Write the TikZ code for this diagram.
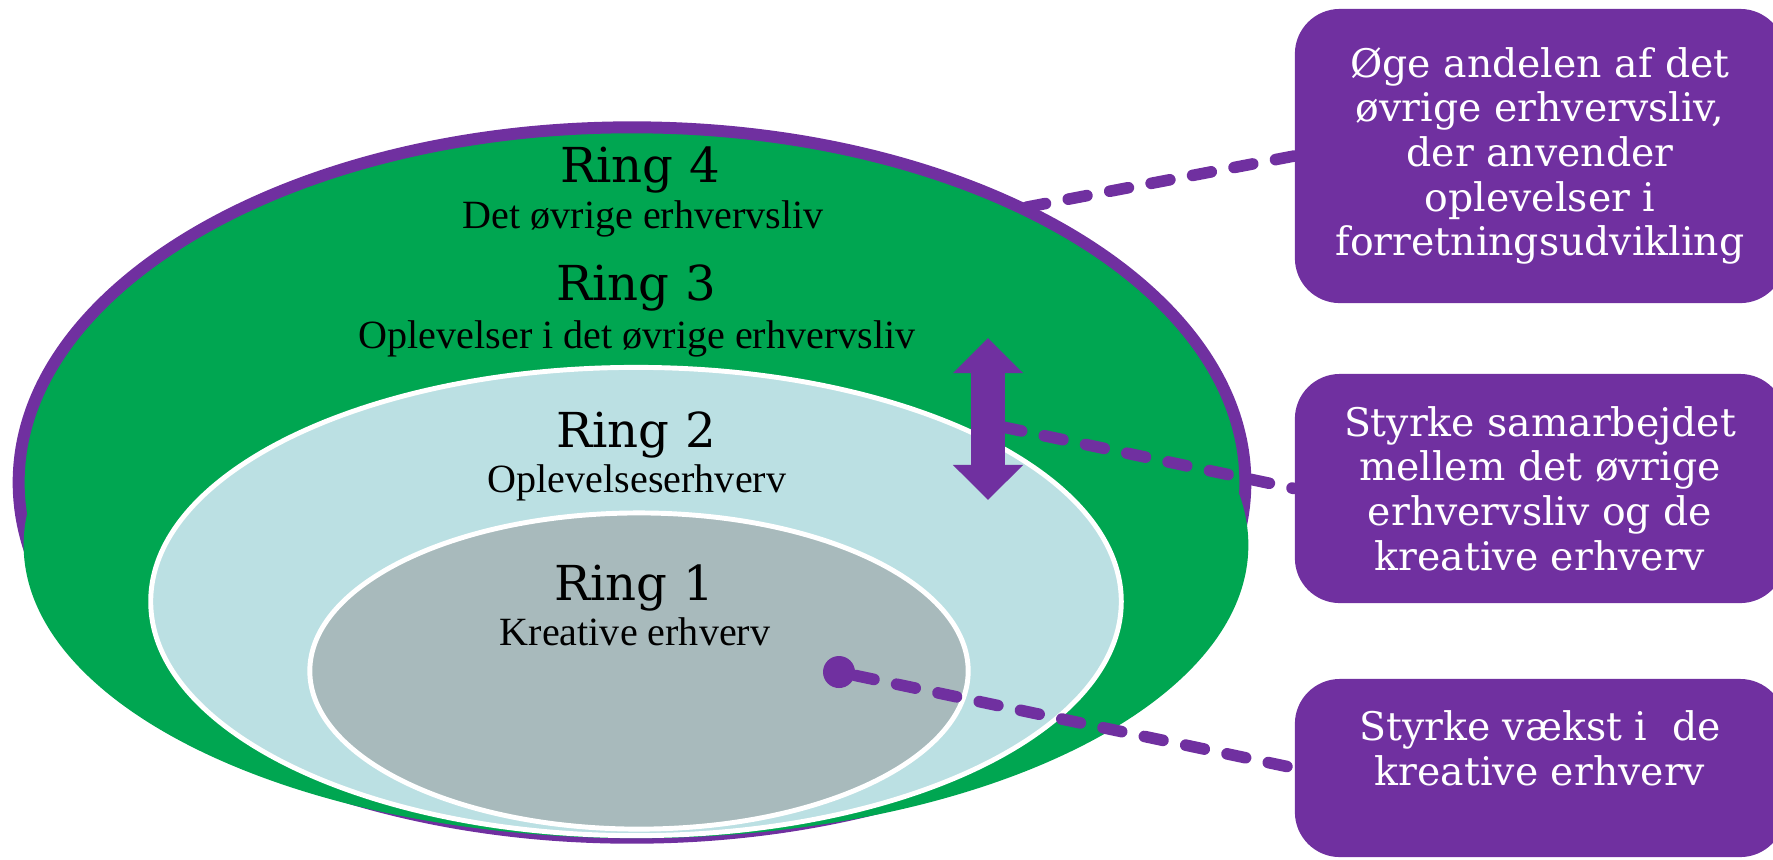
\documentclass[tikz,border=0pt]{standalone}
\usepackage{fontspec}
\setmainfont{Liberation Serif}
\newfontfamily\ringfont{DejaVu Serif}
\usetikzlibrary{arrows.meta}
\definecolor{ringpurple}{RGB}{112,48,160}
\definecolor{ringgreen}{RGB}{0,166,81}
\definecolor{ringblue}{RGB}{187,224,227}
\definecolor{ringgrey}{RGB}{168,186,188}

\begin{document}
\begin{tikzpicture}[x=0.01cm,y=-0.01cm,
    ringtitle/.style={anchor=base,font=\ringfont\fontsize{13.7}{16}\selectfont},
    ringsub/.style={anchor=base,font=\fontsize{11.4}{13}\selectfont},
    goalbox/.style={fill=ringpurple,rounded corners=12.8pt,minimum width=4.9cm,text=white,align=center,font=\ringfont\fontsize{11.2}{12.7}\selectfont},
    link/.style={draw=ringpurple,line width=3.3pt,line cap=round,dash pattern=on 5.4pt off 6.6pt}]
  \useasboundingbox (0,0) rectangle (1773,859);
  % the four rings
  \draw[ringpurple,line width=3.4pt,fill=ringgreen] (632,482.5) ellipse [x radius=6.13cm,y radius=3.55cm];
  \fill[ringgreen] (636,545) ellipse [x radius=6.12cm,y radius=2.93cm];
  \draw[white,line width=1.4pt,fill=ringblue] (636,601.5) ellipse [x radius=4.85cm,y radius=2.34cm];
  \draw[white,line width=1.4pt,fill=ringgrey] (639,671) ellipse [x radius=3.29cm,y radius=1.58cm];
  \node[ringtitle] (r4) at (640,182) {Ring 4};
  \node[ringsub] (r4sub) at (643,228) {Det øvrige erhvervsliv};
  \node[ringtitle] (r3) at (636,300) {Ring 3};
  \node[ringsub] (r3sub) at (637,348) {Oplevelser i det øvrige erhvervsliv};
  \node[ringtitle] (r2) at (636,447) {Ring 2};
  \node[ringsub] (r2sub) at (637,492) {Oplevelseserhverv};
  \node[ringtitle] (r1) at (634,600) {Ring 1};
  \node[ringsub] (r1sub) at (635,645) {Kreative erhverv};
  % double arrow between ring 2 and ring 3
  \coordinate (uptip) at (988,338);
  \coordinate (downtip) at (988,500);
  \draw[ringpurple,line width=9.7pt,{Triangle[length=10pt,width=19.4pt]}-{Triangle[length=10pt,width=19.4pt]}] (uptip) -- (downtip);
  \node[circle,fill=ringpurple,minimum size=0.32cm,inner sep=0] (kdot) at (839,672) {};
  % goals
  \node[goalbox,minimum height=2.94cm] (goal4) at (1540,156) {Øge andelen af det\\øvrige erhvervsliv,\\der anvender\\oplevelser i\\forretningsudvikling};
  \node[goalbox,minimum height=2.29cm] (goal3) at (1540,488.5) {Styrke samarbejdet\\mellem det øvrige\\erhvervsliv og de\\kreative erhverv};
  \node[goalbox,minimum height=1.78cm,text depth=11.4pt] (goal1) at (1540,768) {Styrke vækst i\ \ de\\kreative erhverv};
  \coordinate (r4edge) at (1022,208);
  \coordinate (arrowside) at (1003,427);
  \draw[link] (goal4.west) -- (r4edge);
  \draw[link] (arrowside) -- (goal3.west);
  \draw[link] (kdot) -- (goal1.west);
\end{tikzpicture}
\end{document}
